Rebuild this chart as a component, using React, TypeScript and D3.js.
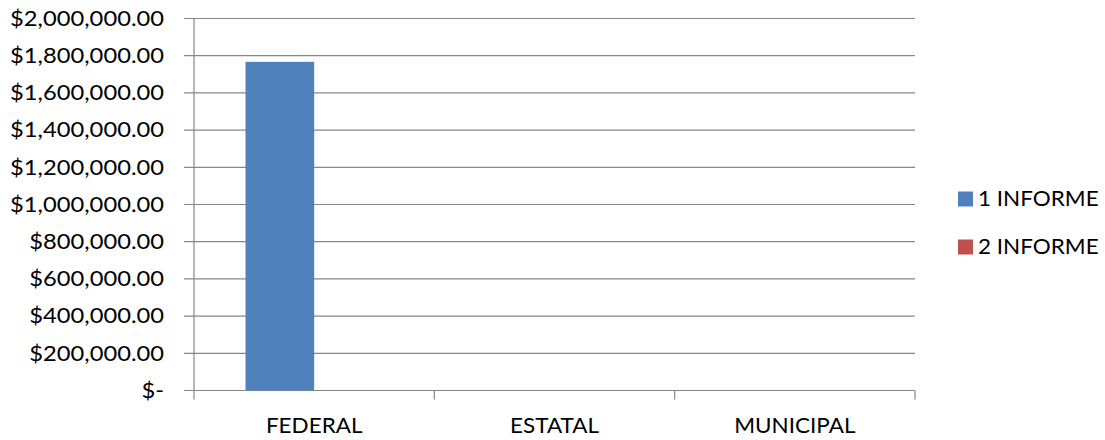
import React from "react";
import * as d3 from "d3";

const categories = ["FEDERAL", "ESTATAL", "MUNICIPAL"];
const seriesNames = ["1 INFORME", "2 INFORME"];
const informe1 = [1767000, 0, 0];
const informe2 = [0, 0, 0];
const yTicks = [0, 200000, 400000, 600000, 800000, 1000000, 1200000, 1400000, 1600000, 1800000, 2000000];
const colors = ["#4F81BD", "#C0504D"];

const W = 1105;
const H = 440;
const left = 194;
const right = 915;
const top = 18.5;
const bottom = 390.5;
const FONT = "Lato, 'Open Sans', sans-serif";
const FS = 21;

function fmt(v: number) {
  if (v === 0) return "$-";
  return "$" + d3.format(",.2f")(v);
}

export default function App() {
  const x = d3.scaleBand<string>().domain(categories).range([left, right]);
  // Excel gap width 150%: band = 2*bw + 1.5*bw
  const bw = x.bandwidth() / 3.5;
  const y = d3.scaleLinear().domain([0, 2000000]).range([bottom, top]);
  const series = [informe1, informe2];
  const grid = "#878787";

  return (
    <svg width={W} height={H} style={{ position: "absolute", left: 0, top: 0, background: "#fff" }} fontFamily={FONT}>
      {yTicks.map((t) => (
        <g key={t}>
          <line x1={184} x2={right} y1={y(t)} y2={y(t)} stroke={grid} strokeWidth={1.2} />
          <text transform={`translate(164, ${y(t)}) scale(1.13, 1)`} dy="0.35em" textAnchor="end" fontSize={FS} fill="#000">
            {fmt(t)}
          </text>
        </g>
      ))}
      <line x1={left} x2={left} y1={top} y2={bottom + 9} stroke={grid} strokeWidth={1.2} />
      {categories.map((c) => (
        <line key={c} x1={(x(c) as number) + x.bandwidth()} x2={(x(c) as number) + x.bandwidth()} y1={bottom} y2={bottom + 9} stroke={grid} strokeWidth={1.2} />
      ))}
      {series.map((s, si) =>
        s.map((v, ci) => {
          const x0 = (x(categories[ci]) as number) + bw * 0.75 + si * bw;
          return v > 0 ? (
            <rect key={si + "-" + ci} x={x0} y={y(v)} width={bw} height={bottom - y(v)} fill={colors[si]} />
          ) : null;
        })
      )}
      {categories.map((c) => (
        <text key={c} transform={`translate(${(x(c) as number) + x.bandwidth() / 2}, 426) scale(1.07, 1)`} dy="0.35em" textAnchor="middle" fontSize={FS} fill="#000">
          {c}
        </text>
      ))}
      {seriesNames.map((n, i) => (
        <g key={n} transform={`translate(958, ${199 + i * 48})`}>
          <rect x={0} y={-7.5} width={15} height={15} fill={colors[i]} />
          <text transform="translate(20, 0) scale(1.07, 1)" dy="0.35em" fontSize={FS} fill="#000">
            {n}
          </text>
        </g>
      ))}
    </svg>
  );
}
